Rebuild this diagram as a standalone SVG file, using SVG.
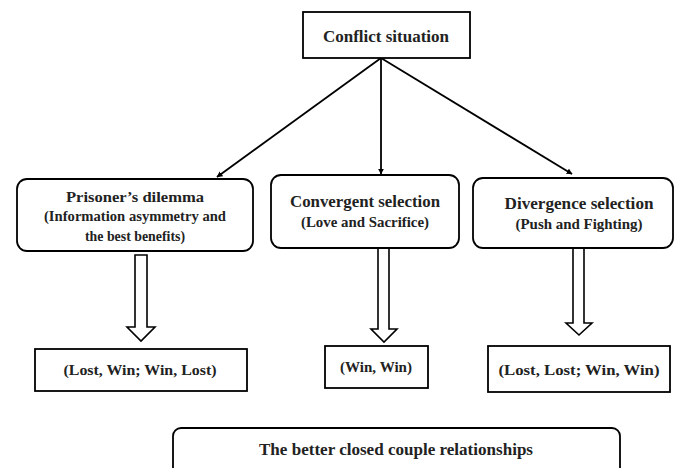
<svg xmlns="http://www.w3.org/2000/svg" width="675" height="468" viewBox="0 0 675 468">
<style>
  .box { fill: #fff; stroke: #000; stroke-width: 1.8; }
  .t { font-family: "Liberation Serif", "Times New Roman", serif; font-size: 15.5px; font-weight: bold; fill: #222; text-anchor: middle; }
  .big { font-size: 16px; }
  .con { stroke: #000; stroke-width: 1.8; fill: none; }
  .hollow { fill: #fff; stroke: #000; stroke-width: 1.6; stroke-linejoin: miter; }
</style>
<defs>
  <marker id="ah" viewBox="0 0 10 10" refX="9" refY="5" markerWidth="6" markerHeight="6" markerUnits="userSpaceOnUse" orient="auto">
    <path d="M0,0 L10,5 L0,10 z" fill="#000"/>
  </marker>
</defs>
<rect width="675" height="468" fill="#fff"/>
<g id="connectors">
  <line class="con" x1="381" y1="58" x2="217" y2="177" marker-end="url(#ah)"/>
  <line class="con" x1="381" y1="58" x2="381" y2="174" marker-end="url(#ah)"/>
  <line class="con" x1="381" y1="58" x2="572" y2="174" marker-end="url(#ah)"/>
  <polygon class="hollow" points="135,255 147,255 147,327 155,327 141,341 127,327 135,327"/>
  <polygon class="hollow" points="378,248 389,248 389,329 397,329 384,342 371,329 378,329"/>
  <polygon class="hollow" points="573,248 584,248 584,323 592,323 579,335 566,323 573,323"/>
</g>
<g id="conflict">
  <rect class="box" x="303" y="12" width="167" height="46"/>
  <text class="t big" x="386" y="42" textLength="126" lengthAdjust="spacingAndGlyphs">Conflict situation</text>
</g>
<g id="prisoner">
  <rect class="box" x="17" y="179" width="236" height="72" rx="10"/>
  <text class="t" x="135" y="202" textLength="138" lengthAdjust="spacingAndGlyphs">Prisoner’s dilemma</text>
  <text class="t" x="135" y="221" textLength="182" lengthAdjust="spacingAndGlyphs">(Information asymmetry and</text>
  <text class="t" x="135" y="241" textLength="100" lengthAdjust="spacingAndGlyphs">the best benefits)</text>
</g>
<g id="convergent">
  <rect class="box" x="271" y="175" width="188" height="73" rx="10"/>
  <text class="t big" x="365" y="207" textLength="150" lengthAdjust="spacingAndGlyphs">Convergent selection</text>
  <text class="t" x="365" y="227" textLength="128" lengthAdjust="spacingAndGlyphs">(Love and Sacrifice)</text>
</g>
<g id="divergence">
  <rect class="box" x="473" y="178" width="200" height="70" rx="10"/>
  <text class="t big" x="579" y="209" textLength="149" lengthAdjust="spacingAndGlyphs">Divergence selection</text>
  <text class="t" x="579" y="229" textLength="127" lengthAdjust="spacingAndGlyphs">(Push and Fighting)</text>
</g>
<g id="result1">
  <rect class="box" x="35" y="349" width="212" height="42"/>
  <text class="t" x="140" y="375" textLength="153" lengthAdjust="spacingAndGlyphs">(Lost, Win; Win, Lost)</text>
</g>
<g id="result2">
  <rect class="box" x="325" y="346" width="103" height="42"/>
  <text class="t" x="376" y="372" textLength="72" lengthAdjust="spacingAndGlyphs">(Win, Win)</text>
</g>
<g id="result3">
  <rect class="box" x="488" y="346" width="182" height="46"/>
  <text class="t" x="579" y="375" textLength="161" lengthAdjust="spacingAndGlyphs">(Lost, Lost; Win, Win)</text>
</g>
<g id="final">
  <rect class="box" x="173" y="428" width="447" height="50" rx="8"/>
  <text class="t big" x="396" y="455" textLength="274" lengthAdjust="spacingAndGlyphs">The better closed couple relationships</text>
</g>
</svg>
